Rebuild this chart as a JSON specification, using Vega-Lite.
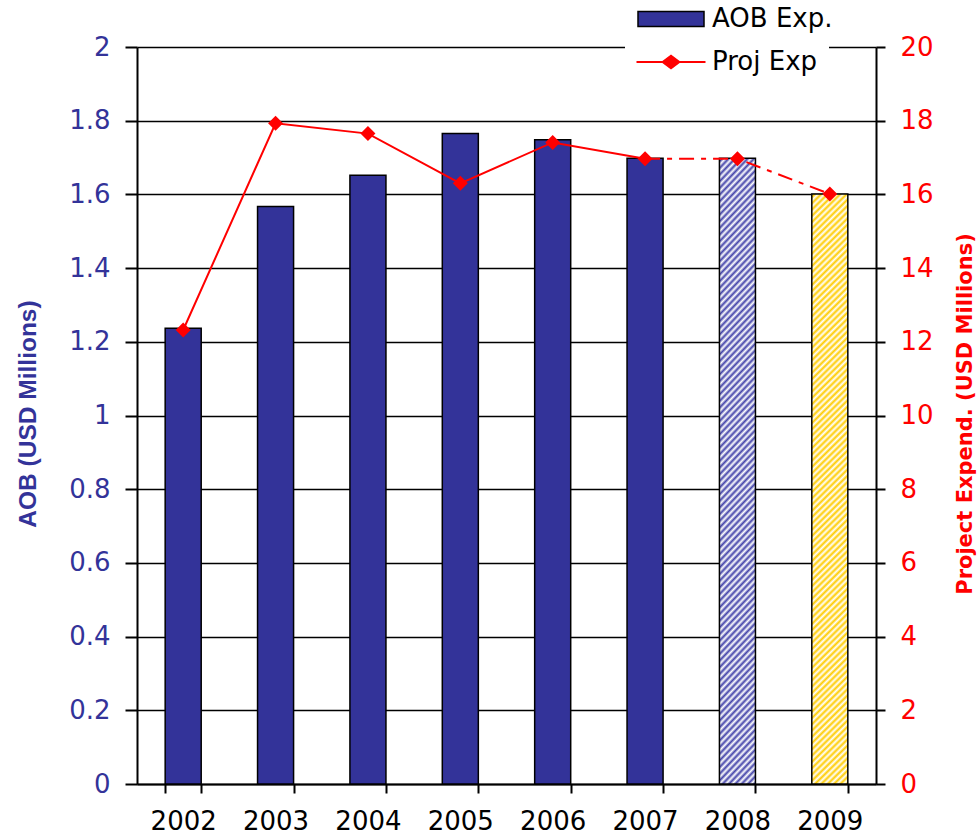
{
"$schema": "https://vega.github.io/schema/vega-lite/v6.json",
"width": 739, "height": 737,
"autosize": {"type": "none"},
"padding": {"left": 137, "top": 47, "right": 101, "bottom": 51},
"background": "white",
"config": {"view": {"stroke": null}, "axis": {"labelFont": "DejaVu Sans", "labelFontSize": 26, "domainColor": "black", "domainWidth": 2, "tickColor": "black", "tickWidth": 2, "gridColor": "black", "gridWidth": 1.5, "gridOpacity": 1}},
"data": {"values": [
{"Year": 2002, "AOB": 1.237, "Proj": 12.32},
{"Year": 2003, "AOB": 1.567, "Proj": 17.93},
{"Year": 2004, "AOB": 1.652, "Proj": 17.65},
{"Year": 2005, "AOB": 1.765, "Proj": 16.3},
{"Year": 2006, "AOB": 1.748, "Proj": 17.41},
{"Year": 2007, "AOB": 1.698, "Proj": 16.97},
{"Year": 2008, "AOB": 1.698, "Proj": 16.97},
{"Year": 2009, "AOB": 1.601, "Proj": 16.01}
]},
"encoding": {"x": {"field": "Year", "type": "ordinal", "scale": {"paddingInner": 0.61, "paddingOuter": 0.305}, "axis": {"title": null, "labelAngle": 0, "tickBand": "extent", "tickSize": 9, "labelPadding": 15, "labelColor": "black", "grid": false}}},
"layer": [
{"encoding": {"y": {"field": "AOB", "type": "quantitative", "scale": {"domain": [0, 2], "nice": false}, "axis": {"title": "AOB (USD Millions)", "values": [0, 0.2, 0.4, 0.6, 0.8, 1, 1.2, 1.4, 1.6, 1.8, 2], "format": "~g", "tickSize": 12, "labelPadding": 15, "labelColor": "#333399", "grid": true, "titleFont": "Liberation Sans", "titleFontWeight": "bold", "titleFontSize": 24.5, "titleColor": "#333399", "titleAngle": 270, "titleX": -102, "titleY": 366.5, "titleAlign": "center", "titleBaseline": "alphabetic"}}},
 "layer": [
  {"transform": [{"filter": "datum.Year <= 2007"}], "mark": {"type": "bar", "stroke": "black", "strokeWidth": 1.5},
   "encoding": {"fill": {"datum": "AOB Exp.", "scale": {"range": ["#333399"]},
     "legend": {"orient": "none", "legendX": 488, "legendY": -52, "title": null, "fillColor": "white", "padding": 11, "labelFont": "DejaVu Sans", "labelFontSize": 26, "labelColor": "black", "symbolType": "M-3.3,-0.75H3.3V0.75H-3.3Z", "symbolSize": 400, "symbolStrokeWidth": 1.5, "symbolStrokeColor": "black", "symbolOffset": 22, "labelOffset": 28, "labelLimit": 0}}}},
  {"transform": [{"filter": "datum.Year == 2008"}], "mark": {"type": "bar", "stroke": "black", "strokeWidth": 1.5, "fill": {"gradient": "linear", "x1": 0, "y1": 0, "x2": 0.064, "y2": 1.06, "stops": [
{"offset":0,"color":"#fff"},{"offset":0.005,"color":"#44a"},{"offset":0.01,"color":"#fff"},{"offset":0.015,"color":"#44a"},{"offset":0.02,"color":"#fff"},{"offset":0.025,"color":"#44a"},{"offset":0.03,"color":"#fff"},{"offset":0.035,"color":"#44a"},{"offset":0.04,"color":"#fff"},{"offset":0.045,"color":"#44a"},
{"offset":0.05,"color":"#fff"},{"offset":0.055,"color":"#44a"},{"offset":0.06,"color":"#fff"},{"offset":0.065,"color":"#44a"},{"offset":0.07,"color":"#fff"},{"offset":0.075,"color":"#44a"},{"offset":0.08,"color":"#fff"},{"offset":0.085,"color":"#44a"},{"offset":0.09,"color":"#fff"},{"offset":0.095,"color":"#44a"},
{"offset":0.1,"color":"#fff"},{"offset":0.105,"color":"#44a"},{"offset":0.11,"color":"#fff"},{"offset":0.115,"color":"#44a"},{"offset":0.12,"color":"#fff"},{"offset":0.125,"color":"#44a"},{"offset":0.13,"color":"#fff"},{"offset":0.135,"color":"#44a"},{"offset":0.14,"color":"#fff"},{"offset":0.145,"color":"#44a"},
{"offset":0.15,"color":"#fff"},{"offset":0.155,"color":"#44a"},{"offset":0.16,"color":"#fff"},{"offset":0.165,"color":"#44a"},{"offset":0.17,"color":"#fff"},{"offset":0.175,"color":"#44a"},{"offset":0.18,"color":"#fff"},{"offset":0.185,"color":"#44a"},{"offset":0.19,"color":"#fff"},{"offset":0.195,"color":"#44a"},
{"offset":0.2,"color":"#fff"},{"offset":0.205,"color":"#44a"},{"offset":0.21,"color":"#fff"},{"offset":0.215,"color":"#44a"},{"offset":0.22,"color":"#fff"},{"offset":0.225,"color":"#44a"},{"offset":0.23,"color":"#fff"},{"offset":0.235,"color":"#44a"},{"offset":0.24,"color":"#fff"},{"offset":0.245,"color":"#44a"},
{"offset":0.25,"color":"#fff"},{"offset":0.255,"color":"#44a"},{"offset":0.26,"color":"#fff"},{"offset":0.265,"color":"#44a"},{"offset":0.27,"color":"#fff"},{"offset":0.275,"color":"#44a"},{"offset":0.28,"color":"#fff"},{"offset":0.285,"color":"#44a"},{"offset":0.29,"color":"#fff"},{"offset":0.295,"color":"#44a"},
{"offset":0.3,"color":"#fff"},{"offset":0.305,"color":"#44a"},{"offset":0.31,"color":"#fff"},{"offset":0.315,"color":"#44a"},{"offset":0.32,"color":"#fff"},{"offset":0.325,"color":"#44a"},{"offset":0.33,"color":"#fff"},{"offset":0.335,"color":"#44a"},{"offset":0.34,"color":"#fff"},{"offset":0.345,"color":"#44a"},
{"offset":0.35,"color":"#fff"},{"offset":0.355,"color":"#44a"},{"offset":0.36,"color":"#fff"},{"offset":0.365,"color":"#44a"},{"offset":0.37,"color":"#fff"},{"offset":0.375,"color":"#44a"},{"offset":0.38,"color":"#fff"},{"offset":0.385,"color":"#44a"},{"offset":0.39,"color":"#fff"},{"offset":0.395,"color":"#44a"},
{"offset":0.4,"color":"#fff"},{"offset":0.405,"color":"#44a"},{"offset":0.41,"color":"#fff"},{"offset":0.415,"color":"#44a"},{"offset":0.42,"color":"#fff"},{"offset":0.425,"color":"#44a"},{"offset":0.43,"color":"#fff"},{"offset":0.435,"color":"#44a"},{"offset":0.44,"color":"#fff"},{"offset":0.445,"color":"#44a"},
{"offset":0.45,"color":"#fff"},{"offset":0.455,"color":"#44a"},{"offset":0.46,"color":"#fff"},{"offset":0.465,"color":"#44a"},{"offset":0.47,"color":"#fff"},{"offset":0.475,"color":"#44a"},{"offset":0.48,"color":"#fff"},{"offset":0.485,"color":"#44a"},{"offset":0.49,"color":"#fff"},{"offset":0.495,"color":"#44a"},
{"offset":0.5,"color":"#fff"},{"offset":0.505,"color":"#44a"},{"offset":0.51,"color":"#fff"},{"offset":0.515,"color":"#44a"},{"offset":0.52,"color":"#fff"},{"offset":0.525,"color":"#44a"},{"offset":0.53,"color":"#fff"},{"offset":0.535,"color":"#44a"},{"offset":0.54,"color":"#fff"},{"offset":0.545,"color":"#44a"},
{"offset":0.55,"color":"#fff"},{"offset":0.555,"color":"#44a"},{"offset":0.56,"color":"#fff"},{"offset":0.565,"color":"#44a"},{"offset":0.57,"color":"#fff"},{"offset":0.575,"color":"#44a"},{"offset":0.58,"color":"#fff"},{"offset":0.585,"color":"#44a"},{"offset":0.59,"color":"#fff"},{"offset":0.595,"color":"#44a"},
{"offset":0.6,"color":"#fff"},{"offset":0.605,"color":"#44a"},{"offset":0.61,"color":"#fff"},{"offset":0.615,"color":"#44a"},{"offset":0.62,"color":"#fff"},{"offset":0.625,"color":"#44a"},{"offset":0.63,"color":"#fff"},{"offset":0.635,"color":"#44a"},{"offset":0.64,"color":"#fff"},{"offset":0.645,"color":"#44a"},
{"offset":0.65,"color":"#fff"},{"offset":0.655,"color":"#44a"},{"offset":0.66,"color":"#fff"},{"offset":0.665,"color":"#44a"},{"offset":0.67,"color":"#fff"},{"offset":0.675,"color":"#44a"},{"offset":0.68,"color":"#fff"},{"offset":0.685,"color":"#44a"},{"offset":0.69,"color":"#fff"},{"offset":0.695,"color":"#44a"},
{"offset":0.7,"color":"#fff"},{"offset":0.705,"color":"#44a"},{"offset":0.71,"color":"#fff"},{"offset":0.715,"color":"#44a"},{"offset":0.72,"color":"#fff"},{"offset":0.725,"color":"#44a"},{"offset":0.73,"color":"#fff"},{"offset":0.735,"color":"#44a"},{"offset":0.74,"color":"#fff"},{"offset":0.745,"color":"#44a"},
{"offset":0.75,"color":"#fff"},{"offset":0.755,"color":"#44a"},{"offset":0.76,"color":"#fff"},{"offset":0.765,"color":"#44a"},{"offset":0.77,"color":"#fff"},{"offset":0.775,"color":"#44a"},{"offset":0.78,"color":"#fff"},{"offset":0.785,"color":"#44a"},{"offset":0.79,"color":"#fff"},{"offset":0.795,"color":"#44a"},
{"offset":0.8,"color":"#fff"},{"offset":0.805,"color":"#44a"},{"offset":0.81,"color":"#fff"},{"offset":0.815,"color":"#44a"},{"offset":0.82,"color":"#fff"},{"offset":0.825,"color":"#44a"},{"offset":0.83,"color":"#fff"},{"offset":0.835,"color":"#44a"},{"offset":0.84,"color":"#fff"},{"offset":0.845,"color":"#44a"},
{"offset":0.85,"color":"#fff"},{"offset":0.855,"color":"#44a"},{"offset":0.86,"color":"#fff"},{"offset":0.865,"color":"#44a"},{"offset":0.87,"color":"#fff"},{"offset":0.875,"color":"#44a"},{"offset":0.88,"color":"#fff"},{"offset":0.885,"color":"#44a"},{"offset":0.89,"color":"#fff"},{"offset":0.895,"color":"#44a"},
{"offset":0.9,"color":"#fff"},{"offset":0.905,"color":"#44a"},{"offset":0.91,"color":"#fff"},{"offset":0.915,"color":"#44a"},{"offset":0.92,"color":"#fff"},{"offset":0.925,"color":"#44a"},{"offset":0.93,"color":"#fff"},{"offset":0.935,"color":"#44a"},{"offset":0.94,"color":"#fff"},{"offset":0.945,"color":"#44a"},
{"offset":0.95,"color":"#fff"},{"offset":0.955,"color":"#44a"},{"offset":0.96,"color":"#fff"},{"offset":0.965,"color":"#44a"},{"offset":0.97,"color":"#fff"},{"offset":0.975,"color":"#44a"},{"offset":0.98,"color":"#fff"},{"offset":0.985,"color":"#44a"},{"offset":0.99,"color":"#fff"},{"offset":0.995,"color":"#44a"},
{"offset":1,"color":"#fff"}]}}},
  {"transform": [{"filter": "datum.Year == 2009"}], "mark": {"type": "bar", "stroke": "black", "strokeWidth": 1.5, "fill": {"gradient": "linear", "x1": 0, "y1": 0, "x2": 0.064, "y2": 1.06, "stops": [
{"offset":0,"color":"#fff"},{"offset":0.005,"color":"#fc0"},{"offset":0.01,"color":"#fff"},{"offset":0.015,"color":"#fc0"},{"offset":0.02,"color":"#fff"},{"offset":0.025,"color":"#fc0"},{"offset":0.03,"color":"#fff"},{"offset":0.035,"color":"#fc0"},{"offset":0.04,"color":"#fff"},{"offset":0.045,"color":"#fc0"},
{"offset":0.05,"color":"#fff"},{"offset":0.055,"color":"#fc0"},{"offset":0.06,"color":"#fff"},{"offset":0.065,"color":"#fc0"},{"offset":0.07,"color":"#fff"},{"offset":0.075,"color":"#fc0"},{"offset":0.08,"color":"#fff"},{"offset":0.085,"color":"#fc0"},{"offset":0.09,"color":"#fff"},{"offset":0.095,"color":"#fc0"},
{"offset":0.1,"color":"#fff"},{"offset":0.105,"color":"#fc0"},{"offset":0.11,"color":"#fff"},{"offset":0.115,"color":"#fc0"},{"offset":0.12,"color":"#fff"},{"offset":0.125,"color":"#fc0"},{"offset":0.13,"color":"#fff"},{"offset":0.135,"color":"#fc0"},{"offset":0.14,"color":"#fff"},{"offset":0.145,"color":"#fc0"},
{"offset":0.15,"color":"#fff"},{"offset":0.155,"color":"#fc0"},{"offset":0.16,"color":"#fff"},{"offset":0.165,"color":"#fc0"},{"offset":0.17,"color":"#fff"},{"offset":0.175,"color":"#fc0"},{"offset":0.18,"color":"#fff"},{"offset":0.185,"color":"#fc0"},{"offset":0.19,"color":"#fff"},{"offset":0.195,"color":"#fc0"},
{"offset":0.2,"color":"#fff"},{"offset":0.205,"color":"#fc0"},{"offset":0.21,"color":"#fff"},{"offset":0.215,"color":"#fc0"},{"offset":0.22,"color":"#fff"},{"offset":0.225,"color":"#fc0"},{"offset":0.23,"color":"#fff"},{"offset":0.235,"color":"#fc0"},{"offset":0.24,"color":"#fff"},{"offset":0.245,"color":"#fc0"},
{"offset":0.25,"color":"#fff"},{"offset":0.255,"color":"#fc0"},{"offset":0.26,"color":"#fff"},{"offset":0.265,"color":"#fc0"},{"offset":0.27,"color":"#fff"},{"offset":0.275,"color":"#fc0"},{"offset":0.28,"color":"#fff"},{"offset":0.285,"color":"#fc0"},{"offset":0.29,"color":"#fff"},{"offset":0.295,"color":"#fc0"},
{"offset":0.3,"color":"#fff"},{"offset":0.305,"color":"#fc0"},{"offset":0.31,"color":"#fff"},{"offset":0.315,"color":"#fc0"},{"offset":0.32,"color":"#fff"},{"offset":0.325,"color":"#fc0"},{"offset":0.33,"color":"#fff"},{"offset":0.335,"color":"#fc0"},{"offset":0.34,"color":"#fff"},{"offset":0.345,"color":"#fc0"},
{"offset":0.35,"color":"#fff"},{"offset":0.355,"color":"#fc0"},{"offset":0.36,"color":"#fff"},{"offset":0.365,"color":"#fc0"},{"offset":0.37,"color":"#fff"},{"offset":0.375,"color":"#fc0"},{"offset":0.38,"color":"#fff"},{"offset":0.385,"color":"#fc0"},{"offset":0.39,"color":"#fff"},{"offset":0.395,"color":"#fc0"},
{"offset":0.4,"color":"#fff"},{"offset":0.405,"color":"#fc0"},{"offset":0.41,"color":"#fff"},{"offset":0.415,"color":"#fc0"},{"offset":0.42,"color":"#fff"},{"offset":0.425,"color":"#fc0"},{"offset":0.43,"color":"#fff"},{"offset":0.435,"color":"#fc0"},{"offset":0.44,"color":"#fff"},{"offset":0.445,"color":"#fc0"},
{"offset":0.45,"color":"#fff"},{"offset":0.455,"color":"#fc0"},{"offset":0.46,"color":"#fff"},{"offset":0.465,"color":"#fc0"},{"offset":0.47,"color":"#fff"},{"offset":0.475,"color":"#fc0"},{"offset":0.48,"color":"#fff"},{"offset":0.485,"color":"#fc0"},{"offset":0.49,"color":"#fff"},{"offset":0.495,"color":"#fc0"},
{"offset":0.5,"color":"#fff"},{"offset":0.505,"color":"#fc0"},{"offset":0.51,"color":"#fff"},{"offset":0.515,"color":"#fc0"},{"offset":0.52,"color":"#fff"},{"offset":0.525,"color":"#fc0"},{"offset":0.53,"color":"#fff"},{"offset":0.535,"color":"#fc0"},{"offset":0.54,"color":"#fff"},{"offset":0.545,"color":"#fc0"},
{"offset":0.55,"color":"#fff"},{"offset":0.555,"color":"#fc0"},{"offset":0.56,"color":"#fff"},{"offset":0.565,"color":"#fc0"},{"offset":0.57,"color":"#fff"},{"offset":0.575,"color":"#fc0"},{"offset":0.58,"color":"#fff"},{"offset":0.585,"color":"#fc0"},{"offset":0.59,"color":"#fff"},{"offset":0.595,"color":"#fc0"},
{"offset":0.6,"color":"#fff"},{"offset":0.605,"color":"#fc0"},{"offset":0.61,"color":"#fff"},{"offset":0.615,"color":"#fc0"},{"offset":0.62,"color":"#fff"},{"offset":0.625,"color":"#fc0"},{"offset":0.63,"color":"#fff"},{"offset":0.635,"color":"#fc0"},{"offset":0.64,"color":"#fff"},{"offset":0.645,"color":"#fc0"},
{"offset":0.65,"color":"#fff"},{"offset":0.655,"color":"#fc0"},{"offset":0.66,"color":"#fff"},{"offset":0.665,"color":"#fc0"},{"offset":0.67,"color":"#fff"},{"offset":0.675,"color":"#fc0"},{"offset":0.68,"color":"#fff"},{"offset":0.685,"color":"#fc0"},{"offset":0.69,"color":"#fff"},{"offset":0.695,"color":"#fc0"},
{"offset":0.7,"color":"#fff"},{"offset":0.705,"color":"#fc0"},{"offset":0.71,"color":"#fff"},{"offset":0.715,"color":"#fc0"},{"offset":0.72,"color":"#fff"},{"offset":0.725,"color":"#fc0"},{"offset":0.73,"color":"#fff"},{"offset":0.735,"color":"#fc0"},{"offset":0.74,"color":"#fff"},{"offset":0.745,"color":"#fc0"},
{"offset":0.75,"color":"#fff"},{"offset":0.755,"color":"#fc0"},{"offset":0.76,"color":"#fff"},{"offset":0.765,"color":"#fc0"},{"offset":0.77,"color":"#fff"},{"offset":0.775,"color":"#fc0"},{"offset":0.78,"color":"#fff"},{"offset":0.785,"color":"#fc0"},{"offset":0.79,"color":"#fff"},{"offset":0.795,"color":"#fc0"},
{"offset":0.8,"color":"#fff"},{"offset":0.805,"color":"#fc0"},{"offset":0.81,"color":"#fff"},{"offset":0.815,"color":"#fc0"},{"offset":0.82,"color":"#fff"},{"offset":0.825,"color":"#fc0"},{"offset":0.83,"color":"#fff"},{"offset":0.835,"color":"#fc0"},{"offset":0.84,"color":"#fff"},{"offset":0.845,"color":"#fc0"},
{"offset":0.85,"color":"#fff"},{"offset":0.855,"color":"#fc0"},{"offset":0.86,"color":"#fff"},{"offset":0.865,"color":"#fc0"},{"offset":0.87,"color":"#fff"},{"offset":0.875,"color":"#fc0"},{"offset":0.88,"color":"#fff"},{"offset":0.885,"color":"#fc0"},{"offset":0.89,"color":"#fff"},{"offset":0.895,"color":"#fc0"},
{"offset":0.9,"color":"#fff"},{"offset":0.905,"color":"#fc0"},{"offset":0.91,"color":"#fff"},{"offset":0.915,"color":"#fc0"},{"offset":0.92,"color":"#fff"},{"offset":0.925,"color":"#fc0"},{"offset":0.93,"color":"#fff"},{"offset":0.935,"color":"#fc0"},{"offset":0.94,"color":"#fff"},{"offset":0.945,"color":"#fc0"},
{"offset":0.95,"color":"#fff"},{"offset":0.955,"color":"#fc0"},{"offset":0.96,"color":"#fff"},{"offset":0.965,"color":"#fc0"},{"offset":0.97,"color":"#fff"},{"offset":0.975,"color":"#fc0"},{"offset":0.98,"color":"#fff"},{"offset":0.985,"color":"#fc0"},{"offset":0.99,"color":"#fff"},{"offset":0.995,"color":"#fc0"},
{"offset":1,"color":"#fff"}]}}}
 ]},
{"encoding": {"y": {"field": "Proj", "type": "quantitative", "scale": {"domain": [0, 20], "nice": false}, "axis": {"orient": "right", "title": "Project Expend. (USD Millions)", "values": [0, 2, 4, 6, 8, 10, 12, 14, 16, 18, 20], "tickSize": 9, "labelPadding": 15, "labelColor": "#ff0000", "grid": false, "titleFont": "DejaVu Sans", "titleFontWeight": "bold", "titleFontSize": 21, "titleColor": "#ff0000", "titleAngle": 270, "titleX": 95, "titleY": 366.5, "titleAlign": "center", "titleBaseline": "alphabetic"}}},
 "layer": [
  {"transform": [{"filter": "datum.Year <= 2007"}], "mark": {"type": "line", "strokeWidth": 2, "color": "#ff0000"}, "encoding": {}},
  {"transform": [{"filter": "datum.Year >= 2007"}], "mark": {"type": "line", "strokeWidth": 2, "color": "#ff0000", "strokeDash": [15, 7, 5, 7]}, "encoding": {}},
  {"mark": {"type": "point", "shape": "diamond", "filled": true, "size": 225, "opacity": 1},
   "encoding": {"color": {"datum": "Proj Exp", "scale": {"range": ["#ff0000"]},
     "legend": {"orient": "none", "legendX": 488, "legendY": -9, "title": null, "fillColor": "white", "padding": 11, "labelFont": "DejaVu Sans", "labelFontSize": 26, "labelColor": "black", "symbolType": "M-3.45,-0.1H3.45V0.1H-3.45Z M0,-0.75L1,0L0,0.75L-1,0Z", "symbolSize": 400, "symbolStrokeWidth": 0, "symbolOffset": 22, "labelOffset": 28, "labelLimit": 0}}}}
 ]}
],
"resolve": {"scale": {"y": "independent"}}
}
